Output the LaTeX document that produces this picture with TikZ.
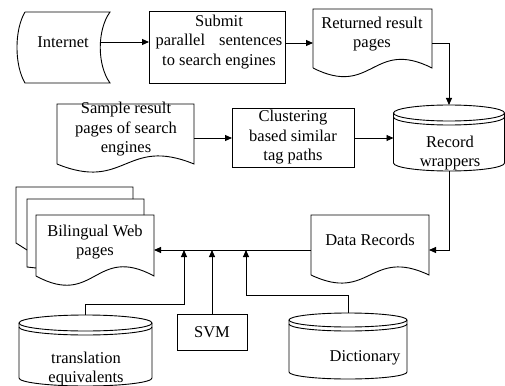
\documentclass[tikz,border=0pt]{standalone}
\usepackage{fontspec}
\setmainfont{Liberation Serif}
\usetikzlibrary{calc,arrows.meta}
\newcommand\mycyl[3]{% name, rx, ry
  \draw ($(#1.north)+(0,#3)$) ellipse [x radius=#2pt, y radius=#3pt];
  \draw ($(#1.north west)+(0,#3+4)$) arc [start angle=180, end angle=360, x radius=#2pt, y radius=#3pt];
  \draw ($(#1.north west)+(0,#3)$) -- ($(#1.south west)+(0,-#3)$)
     arc [start angle=180, end angle=360, x radius=#2pt, y radius=#3pt]
     -- ($(#1.north east)+(0,#3)$);
}
\newcommand\mydoc[2]{% name, wave
  \draw (#1.south west) -- (#1.north west) -- (#1.north east) -- (#1.south east)
    .. controls ($(#1.south)+(0,-#2)$) and ($(#1.south)+(0,#2)$) .. (#1.south west);
}
\begin{document}
\begin{tikzpicture}[x=1pt,y=-1pt,line width=0.9pt,
  font=\fontsize{16.5}{19.5}\selectfont,
  shp/.style={inner sep=0pt,outer sep=0pt,rectangle},
  txt/.style={inner sep=0pt,align=center},
  arr/.style={-{Triangle[length=7pt,width=6pt]}}]
\useasboundingbox (0,0) rectangle (505,385);

% shapes
\node[shp,minimum width=85pt,minimum height=71pt] (inet) at (67.5,47.5) {};
\draw (inet.north west) -- (inet.north east)
  .. controls ($(inet.north east)+(-13,18)$) and ($(inet.south east)+(-13,-18)$) .. (inet.south east)
  -- (inet.south west)
  .. controls ($(inet.south west)+(-10.7,-18)$) and ($(inet.north west)+(-10.7,18)$) .. (inet.north west);

\node[shp,draw,minimum width=136pt,minimum height=72pt] (submit) at (217,47) {};
\node[shp,minimum width=119pt,minimum height=59pt] (ret) at (372.5,38.5) {};
\mydoc{ret}{30}
\node[shp,minimum width=137pt,minimum height=60pt] (samp) at (125.5,134) {};
\mydoc{samp}{28}
\node[shp,draw,minimum width=122pt,minimum height=59pt] (clus) at (293,137.5) {};
\node[shp,minimum width=111pt,minimum height=66pt] (rec) at (449,138) {};
\mycyl{rec}{55.5}{8}
\node[shp,minimum width=118pt,minimum height=61pt] (bil) at (95,245.5) {};
\draw ($(bil.north west)+(-9,35)$) -- ($(bil.north west)+(-20,28)$) -- ($(bil.north west)+(-20,-28)$)
  -- ($(bil.north west)+(97,-28)$) -- ($(bil.north west)+(97,-16)$);
\draw ($(bil.north west)+(0,53)$) -- ($(bil.north west)+(-9,52)$) -- ($(bil.north west)+(-9,-16)$)
  -- ($(bil.north west)+(108,-16)$) -- ($(bil.north west)+(108,0)$);
\mydoc{bil}{32}
\node[shp,minimum width=118pt,minimum height=60pt] (data) at (370,245) {};
\mydoc{data}{28}
\node[shp,draw,minimum width=70pt,minimum height=36pt] (svm) at (212,332) {};
\node[shp,minimum width=133pt,minimum height=71pt] (trans) at (85.5,350.5) {};
\mycyl{trans}{66.5}{8}
\node[shp,minimum width=118pt,minimum height=66pt] (dict) at (348,346) {};
\mycyl{dict}{59}{7}

% texts
\node[txt] (inetT) at (63,42) {Internet};
\node[txt] (submitT) at (219,42) {Submit\\parallel\hspace{14pt}sentences\\to search engines};
\node[txt] (retT) at (372,34) {Returned result\\pages};
\node[txt] (sampT) at (126,129.5) {Sample result\\pages of search\\engines};
\node[txt] (clusT) at (293,137.5) {Clustering\\based similar\\tag paths};
\node[txt] (recT) at (450,153) {Record\\wrappers};
\node[txt] (bilT) at (95,242) {Bilingual Web\\pages};
\node[txt] (dataT) at (370,240) {Data Records};
\node[txt] (svmT) at (212,332) {SVM};
\node[txt] (transT) at (86,369) {translation\\equivalents};
\node[txt] (dictT) at (365,358) {Dictionary};

% join points
\coordinate (j1) at (184,250);
\coordinate (j2) at (212,250);
\coordinate (j3) at (246,250);

% connectors
\draw[arr] ($(inet.east)+(-10,-5.5)$) -- ($(submit.west)+(0,-5)$);
\draw[arr] ($(submit.east)+(0,-4)$) -- ($(ret.west)+(0,4.5)$);
\draw[arr] ($(ret.east)+(0,4.5)$) -| (rec.north);
\draw[arr] ($(samp.east)+(0,4)$) -- ($(clus.west)+(0,0.5)$);
\draw[arr] ($(clus.east)+(0,0.5)$) -- (rec.west);
\draw[arr] (rec.south) |- ($(data.east)+(0,5)$);
\draw[arr] ($(data.west)+(0,5)$) -- ($(bil.east)+(0,4.5)$);
\draw[arr] (trans.north) |- ($(j1)+(0,54)$) -- (j1);
\draw[arr] (svm.north) -- (j2);
\draw[arr] (dict.north) |- ($(j3)+(0,45)$) -- (j3);
\end{tikzpicture}
\end{document}
